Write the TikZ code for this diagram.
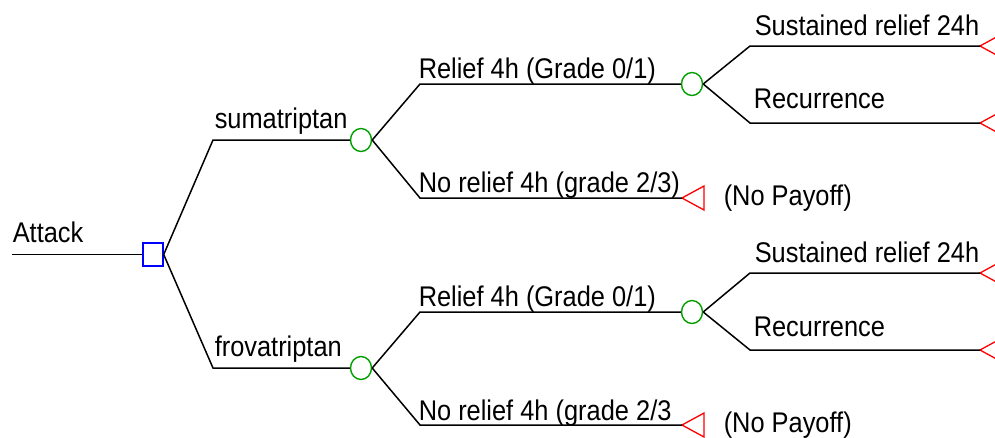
\documentclass[tikz,border=0pt]{standalone}
\usepackage{fontspec}
\setmainfont{Liberation Sans}
\usetikzlibrary{shapes.geometric}
\newcommand{\lbltxt}[1]{\scalebox{1}[1.12]{#1}}
\definecolor{decblue}{RGB}{0,0,255}
\definecolor{chgreen}{RGB}{0,160,0}
\definecolor{termred}{RGB}{255,0,0}
\begin{document}
\begin{tikzpicture}[x=1pt,y=-1pt,line width=1.5pt,
  lbl/.style={anchor=base west,inner sep=0pt,font=\fontsize{25.4}{30}\selectfont},
  decision/.style={draw=decblue,line width=1.4pt,rectangle,minimum width=20pt,minimum height=23pt,inner sep=0pt},
  chance/.style={draw=chgreen,line width=1.4pt,ellipse,minimum width=21pt,minimum height=23pt,inner sep=0pt},
  term/.style={draw=termred,line width=1.3pt}]
\useasboundingbox (0,0) rectangle (995,437);
\clip (0,0) rectangle (995,437);
% nodes
\node[decision] (d) at (153,254.5) {};
\coordinate (a0) at (12,254.5);
\node[chance] (c1) at (361,140) {};
\node[chance] (c2) at (361,368) {};
\node[chance] (c11) at (692,84) {};
\node[chance] (c21) at (692,312) {};
\coordinate (t12) at (682,198);
\coordinate (t22) at (682,425);
\coordinate (t111) at (980,46);
\coordinate (t112) at (980,123);
\coordinate (t211) at (980,273);
\coordinate (t212) at (980,350);
% terminals
\foreach \t in {t12,t22,t111,t112,t211,t212}
  \draw[term] (\t) -- ++(22,-12) -- ++(0,24) -- cycle;
% connectors
\draw (a0) -- (d);
\draw (d.east) -- (213,140) -- (c1);
\draw (d.east) -- (213,368) -- (c2);
\draw (c1.east) -- (420,84) -- (c11);
\draw (c1.east) -- (420,198) -- (t12);
\draw (c2.east) -- (420,312) -- (c21);
\draw (c2.east) -- (420,425) -- (t22);
\draw (c11.east) -- (750,46) -- (t111);
\draw (c11.east) -- (750,123) -- (t112);
\draw (c21.east) -- (750,273) -- (t211);
\draw (c21.east) -- (750,350) -- (t212);
% labels
\node[lbl] (lA) at (12,242) {\lbltxt{Attack}};
\node[lbl] (l1) at (214,128) {\lbltxt{sumatriptan}};
\node[lbl] (l2) at (214,356) {\lbltxt{frovatriptan}};
\node[lbl] (l11) at (418,78) {\lbltxt{Relief 4h (Grade 0/1)}};
\node[lbl] (l12) at (418,192) {\lbltxt{No relief 4h (grade 2/3)}};
\node[lbl] (l21) at (418,306) {\lbltxt{Relief 4h (Grade 0/1)}};
\node[lbl] (l22) at (418,420) {\lbltxt{No relief 4h (grade 2/3}};
\node[lbl] (p12) at (723,205) {\lbltxt{(No Payoff)}};
\node[lbl] (p22) at (723,432) {\lbltxt{(No Payoff)}};
\node[lbl] (l111) at (754,35) {\lbltxt{Sustained relief 24h}};
\node[lbl] (l112) at (753,108) {\lbltxt{Recurrence}};
\node[lbl] (l211) at (754,262) {\lbltxt{Sustained relief 24h}};
\node[lbl] (l212) at (753,336) {\lbltxt{Recurrence}};
\end{tikzpicture}
\end{document}
